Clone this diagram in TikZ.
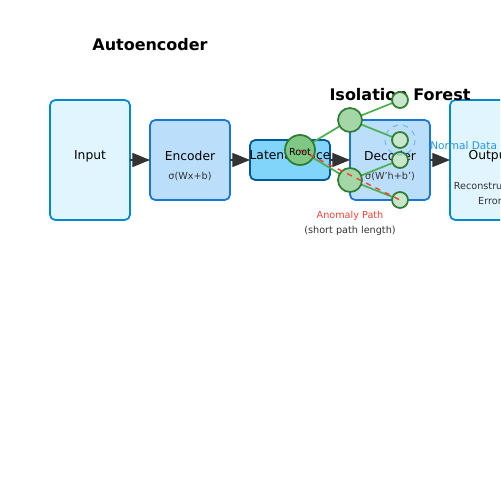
\documentclass[tikz,border=0pt]{standalone}
\usepackage{fontspec}
\setmainfont{DejaVu Sans}
\usetikzlibrary{arrows.meta}
\definecolor{lightbox}{HTML}{E1F5FE}
\definecolor{lightedge}{HTML}{0288D1}
\definecolor{midbox}{HTML}{BBDEFB}
\definecolor{midedge}{HTML}{1976D2}
\definecolor{latbox}{HTML}{81D4FA}
\definecolor{latedge}{HTML}{01579B}
\definecolor{rootfill}{HTML}{81C784}
\definecolor{innerfill}{HTML}{A5D6A7}
\definecolor{leaffill}{HTML}{C8E6C9}
\definecolor{treeedge}{HTML}{2E7D32}
\definecolor{branch}{HTML}{4CAF50}
\definecolor{anomred}{HTML}{F44336}
\definecolor{normblue}{HTML}{2196F3}
\definecolor{clusterblue}{HTML}{64B5F6}
\definecolor{arrowgray}{HTML}{333333}
\definecolor{subgray}{HTML}{333333}
\tikzset{
  layerbox/.style={draw,rounded corners=3pt,line width=1pt},
  flow/.style={arrowgray,line width=0.6pt,-{Triangle[length=10pt,width=8pt]}},
  branchline/.style={branch,line width=1pt},
  treenode/.style={circle,draw=treeedge,line width=1pt,inner sep=0pt},
  label/.style={font=\fontsize{7}{8}\selectfont},
  sublabel/.style={font=\fontsize{5.5}{6.5}\selectfont,text=subgray},
  heading/.style={font=\fontsize{9.1}{11}\selectfont\bfseries}
}
\begin{document}
\begin{tikzpicture}[x=0.02cm,y=-0.02cm]
    \useasboundingbox (0,0) rectangle (500,500);
    \clip (0,0) rectangle (500,500);
    % autoencoder layers
    \draw[layerbox,fill=lightbox,draw=lightedge](50,100) rectangle (130,220);
    \draw[layerbox,fill=midbox,draw=midedge](150,120) rectangle (230,200);
    \draw[layerbox,fill=latbox,draw=latedge](250,140) rectangle (330,180);
    \draw[layerbox,fill=midbox,draw=midedge](350,120) rectangle (430,200);
    \draw[layerbox,fill=lightbox,draw=lightedge](450,100) rectangle (530,220);
    \node[label] (input) at (90,156) {Input};
    \node[label] (enc) at (190,156) {Encoder};
    \node[sublabel] (encf) at (190,176) {σ(Wx+b)};
    \node[label] (lat) at (290,156) {Latent Space};
    \node[label] (dec) at (390,156) {Decoder};
    \node[sublabel] (decf) at (390,176) {σ(W'h+b')};
    \node[label] (out) at (490,156) {Output};
    \node[sublabel] (rec) at (490,186) {Reconstruction};
    \node[sublabel] (err) at (490,201) {Error};
    \coordinate (a1) at (130,160); \coordinate (b1) at (150,160);
    \coordinate (a2) at (230,160); \coordinate (b2) at (250,160);
    \coordinate (a3) at (330,160); \coordinate (b3) at (350,160);
    \coordinate (a4) at (430,160); \coordinate (b4) at (450,160);
    \draw[flow](a1)--(b1);
    \draw[flow](a2)--(b2);
    \draw[flow](a3)--(b3);
    \draw[flow](a4)--(b4);
    \node[heading] (aetitle) at (150,45) {Autoencoder};
    \node[heading] (iftitle) at (400,95) {Isolation Forest};
    % isolation tree
    \coordinate (R) at (300,150);
    \coordinate (U) at (350,120);
    \coordinate (D) at (350,180);
    \coordinate (L1) at (400,100);
    \coordinate (L2) at (400,140);
    \coordinate (L3) at (400,160);
    \coordinate (L4) at (400,200);
    \draw[branchline](R)--(U);
    \draw[branchline](R)--(D);
    \draw[branchline](U)--(L1);
    \draw[branchline](U)--(L2);
    \draw[branchline](D)--(L3);
    \draw[branchline](D)--(L4);
    \node[treenode,fill=rootfill,minimum size=0.6cm] (root) at (R) {};
    \node[treenode,fill=innerfill,minimum size=0.48cm] (up) at (U) {};
    \node[treenode,fill=innerfill,minimum size=0.48cm] (down) at (D) {};
    \foreach \l in {L1,L2,L3,L4}
      \node[treenode,fill=leaffill,minimum size=0.32cm] (leaf\l) at (\l) {};
    \draw[clusterblue,dashed,line width=0.5pt](L2) circle (15);
    \draw[anomred,dashed,line width=0.85pt](root.center)--(leafL4.center);
    \node[font=\fontsize{5.5}{6.5}\selectfont] (rootlbl) at (300,152) {Root};
    \node[font=\fontsize{6}{7}\selectfont,text=normblue,anchor=west,inner sep=0pt] (normal) at (430,146) {Normal Data Cluster};
    \node[font=\fontsize{5.5}{6.5}\selectfont,text=anomred] (anom) at (350,216) {Anomaly Path};
    \node[sublabel] (short) at (350,231) {(short path length)};
\end{tikzpicture}
\end{document}
